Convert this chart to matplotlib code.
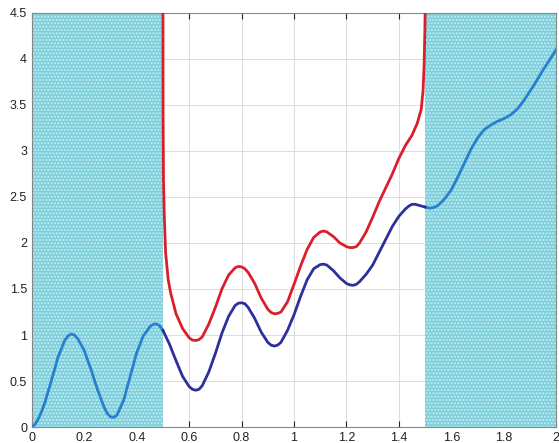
import matplotlib
matplotlib.use("Agg")
import matplotlib.pyplot as plt

plt.rcParams['font.family'] = ['Liberation Sans', 'DejaVu Sans']
plt.rcParams['hatch.linewidth'] = 1.0

# Light blue curve, left part
lb_left_x = [0, 0.0125, 0.025, 0.0375, 0.05, 0.075, 0.1, 0.125, 0.1375, 0.15, 0.1625,
             0.175, 0.2, 0.225, 0.25, 0.275, 0.2875, 0.3, 0.3125, 0.325, 0.35,
             0.375, 0.4, 0.425, 0.45, 0.4625, 0.475, 0.4875, 0.5]
lb_left_y = [0, 0.03, 0.09, 0.17, 0.27, 0.51, 0.76, 0.94, 0.99, 1.01, 1.0,
             0.96, 0.83, 0.63, 0.41, 0.22, 0.15, 0.11, 0.105, 0.13, 0.29,
             0.55, 0.81, 0.99, 1.09, 1.115, 1.12, 1.1, 1.05]

# Light blue curve, right part
lb_right_x = [1.5, 1.5125, 1.525, 1.5375, 1.55, 1.575, 1.6, 1.625, 1.65, 1.675, 1.7,
              1.725, 1.75, 1.775, 1.8, 1.825, 1.85, 1.875, 1.9, 1.925, 1.95,
              1.975, 2.0]
lb_right_y = [2.39, 2.38, 2.38, 2.39, 2.41, 2.48, 2.58, 2.72, 2.87, 3.02, 3.14,
              3.23, 3.28, 3.32, 3.35, 3.39, 3.45, 3.54, 3.65, 3.76, 3.88,
              3.99, 4.1]

# Dark blue curve
db_x = [0.5, 0.525, 0.55, 0.575, 0.6, 0.6125, 0.625, 0.6375, 0.65, 0.675, 0.7,
        0.725, 0.75, 0.775, 0.7875, 0.8, 0.8125, 0.825, 0.85, 0.875, 0.9,
        0.9125, 0.925, 0.9375, 0.95, 0.975, 1.0, 1.025, 1.05, 1.075, 1.1,
        1.1125, 1.125, 1.15, 1.175, 1.2, 1.2125, 1.225, 1.2375, 1.25, 1.275,
        1.3, 1.325, 1.35, 1.375, 1.4, 1.425, 1.4375, 1.45, 1.4625, 1.475, 1.5]
db_y = [1.05, 0.9, 0.72, 0.55, 0.44, 0.41, 0.4, 0.41, 0.45, 0.6, 0.8,
        1.02, 1.2, 1.32, 1.345, 1.35, 1.34, 1.3, 1.18, 1.03, 0.92,
        0.89, 0.88, 0.89, 0.92, 1.05, 1.22, 1.42, 1.6, 1.72, 1.765,
        1.77, 1.76, 1.7, 1.62, 1.56, 1.545, 1.54, 1.55, 1.58, 1.66,
        1.76, 1.9, 2.04, 2.18, 2.29, 2.37, 2.4, 2.42, 2.42, 2.41, 2.39]

# Red curve
red_x = [0.5, 0.5005, 0.502, 0.505, 0.51, 0.52, 0.53, 0.55, 0.575, 0.6, 0.6125,
         0.625, 0.6375, 0.65, 0.675, 0.7, 0.725, 0.75, 0.775, 0.7875, 0.8,
         0.8125, 0.825, 0.85, 0.875, 0.9, 0.9125, 0.925, 0.9375, 0.95, 0.975,
         1.0, 1.025, 1.05, 1.075, 1.1, 1.1125, 1.125, 1.15, 1.175, 1.2,
         1.2125, 1.225, 1.2375, 1.25, 1.275, 1.3, 1.325, 1.35, 1.375, 1.4,
         1.425, 1.45, 1.47, 1.485, 1.492, 1.496, 1.499, 1.5]
red_y = [4.5, 3.4, 2.7, 2.3, 1.9, 1.6, 1.45, 1.23, 1.07, 0.97, 0.945,
         0.94, 0.95, 0.98, 1.12, 1.3, 1.5, 1.65, 1.73, 1.745, 1.74,
         1.72, 1.68, 1.56, 1.4, 1.28, 1.245, 1.23, 1.235, 1.25, 1.36,
         1.55, 1.75, 1.93, 2.06, 2.12, 2.13, 2.12, 2.07, 2.0, 1.96,
         1.95, 1.95, 1.96, 2.0, 2.12, 2.28, 2.45, 2.6, 2.75, 2.92,
         3.06, 3.17, 3.3, 3.45, 3.65, 3.92, 4.3, 4.5]

shade_spans = [(0.0, 0.5), (1.5, 2.0)]
x_ticks = [0, 0.2, 0.4, 0.6, 0.8, 1, 1.2, 1.4, 1.6, 1.8, 2]
x_labels = ['0', '0.2', '0.4', '0.6', '0.8', '1', '1.2', '1.4', '1.6', '1.8', '2']
y_ticks = [0, 0.5, 1, 1.5, 2, 2.5, 3, 3.5, 4, 4.5]
y_labels = ['0', '0.5', '1', '1.5', '2', '2.5', '3', '3.5', '4', '4.5']

fig = plt.figure(figsize=(5.59, 4.43), dpi=100)
ax = fig.add_axes([0.057, 0.036, 0.938, 0.935])

ax.grid(True, color='#dcdcdc', linestyle='-', linewidth=0.7)
ax.set_axisbelow(True)

for a, b in shade_spans:
    ax.axvspan(a, b, facecolor='#7dcfdc', edgecolor='#c9eef3', hatch='.....',
               linewidth=0, zorder=1.5)

ax.plot(lb_left_x, lb_left_y, color='#2680cf', lw=2, zorder=3)
ax.plot(lb_right_x, lb_right_y, color='#2680cf', lw=2, zorder=3)
ax.plot(db_x, db_y, color='#2c2f9c', lw=2, zorder=3)
ax.plot(red_x, red_y, color='#d9202a', lw=2, zorder=3)

ax.set_xlim(0, 2)
ax.set_ylim(0, 4.5)
ax.set_xticks(x_ticks)
ax.set_xticklabels(x_labels)
ax.set_yticks(y_ticks)
ax.set_yticklabels(y_labels)
ax.tick_params(direction='in', length=4, labelsize=9, colors='#222222',
               top=True, right=True)
for s in ax.spines.values():
    s.set_color('#888888')
    s.set_linewidth(0.8)

fig.savefig('out.png', dpi=100)
